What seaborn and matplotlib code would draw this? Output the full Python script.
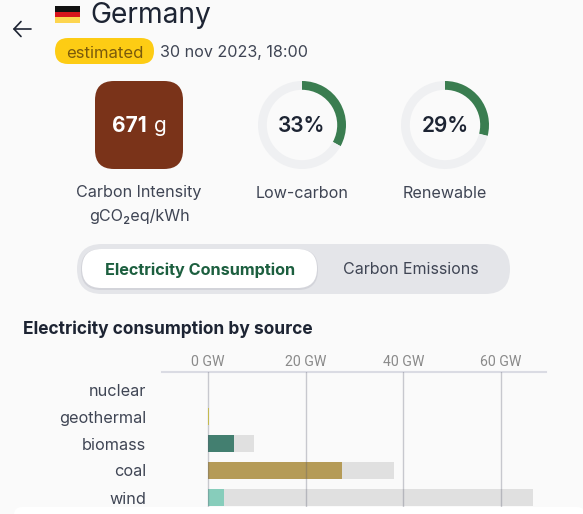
import matplotlib
matplotlib.use("Agg")
import matplotlib.pyplot as plt
from matplotlib.patches import FancyBboxPatch, Rectangle
import pandas as pd
import seaborn as sns

sources = ["nuclear", "geothermal", "biomass", "coal", "wind"]
capacity_gw = [0.0, 0.2, 9.4, 38.1, 66.6]
production_gw = [0.0, 0.2, 5.3, 27.5, 3.3]
source_colors = ["#e8e8e8", "#f5e642", "#437f70", "#b59b57", "#87cdbb"]
tick_values = [0, 20, 40, 60]
tick_labels = ["0 GW", "20 GW", "40 GW", "60 GW"]
ring_names = ["Low-carbon", "Renewable"]
ring_values = [33, 29]
intensity = "671"

sns.set_theme(style="white")
plt.rcParams["font.family"] = ["Inter", "DejaVu Sans"]
BG = "#fafafa"
INK = "#1d2433"
GREY = "#3f4554"

W, H = 583, 514
fig = plt.figure(figsize=(W / 100, H / 100), dpi=100, facecolor=BG)


def box(x0, y0, x1, y1):
    return [x0 / W, 1 - y1 / H, (x1 - x0) / W, (y1 - y0) / H]


ui = fig.add_axes([0, 0, 1, 1], zorder=0)
ui.set_xlim(0, W)
ui.set_ylim(H, 0)
ui.axis("off")


def rounded(x0, y0, x1, y1, r, color, z=1, **kw):
    ui.add_patch(FancyBboxPatch((x0 + r, y0 + r), x1 - x0 - 2 * r, y1 - y0 - 2 * r,
                                boxstyle=f"round,pad={r},rounding_size={r}",
                                fc=color, ec="none", zorder=z, **kw))


# Back arrow
ui.plot([14, 31], [29, 29], color=INK, lw=1.2, solid_capstyle="round")
ui.plot([21, 14, 21], [21.5, 29, 36.5], color=INK, lw=1.2, solid_capstyle="round")

# Flag
for y0, c in zip([6, 11.5, 17], ["#111111", "#d8141c", "#fdd54f"]):
    ui.add_patch(Rectangle((55, y0), 25, 5.5, fc=c, ec="none"))

ui.text(90.5, 15.5, "Germany", fontsize=20.3, color=INK, va="center", ha="left")

# Status pill and date
rounded(55, 38, 154, 64, 13, "#fdcc14")
ui.text(105, 53, "estimated", fontsize=12, color="#7a5a0c", ha="center", va="center")
ui.text(160, 53, "30 nov 2023, 18:00", fontsize=11.6, color=GREY, ha="left", va="center")

# Carbon intensity tile
rounded(95, 81, 183, 169, 19, "#7a3319")
ui.text(129, 126.5, intensity, fontsize=15, fontweight="bold", color="white", ha="center", va="center")
ui.text(160, 126.5, "g", fontsize=15, color="white", ha="center", va="center")
ui.text(139, 193, "Carbon Intensity", fontsize=11.6, color=GREY, ha="center", va="center")
ui.text(139, 217, "gCO₂eq/kWh", fontsize=11.6, color=GREY, ha="center", va="center")

# Rings
for cx, name, val in zip([302, 445], ring_names, ring_values):
    r = 44
    ax = fig.add_axes(box(cx - r, 125 - r, cx + r, 125 + r), zorder=1)
    ax.pie([val, 100 - val], colors=["#3a7d50", "#eff0f2"], startangle=90, counterclock=False,
           radius=1.0, wedgeprops=dict(width=0.2, linewidth=0))
    ax.set_xlim(-1, 1)
    ax.set_ylim(-1, 1)
    ax.text(0, -0.03, f"{val}%", fontsize=15, fontweight="semibold", color=INK, ha="center", va="center")
    ui.text(cx, 193, name, fontsize=11.6, color=GREY, ha="center", va="center")

# Toggle
rounded(77, 244, 510, 294, 25, "#e4e5e9")
rounded(81, 249, 318, 290, 20, "#d3d4da", z=2)
rounded(82, 249, 317, 288, 19.5, "white", z=2)
ui.text(200, 270, "Electricity Consumption", fontsize=11.7, fontweight="bold", color="#1c5f3f",
        ha="center", va="center", zorder=3)
ui.text(410.5, 270, "Carbon Emissions", fontsize=11.5, color=GREY, ha="center", va="center", zorder=3)

ui.text(23, 329, "Electricity consumption by source", fontsize=12.5, fontweight="bold", color=INK,
        ha="left", va="center")

# Bar chart
df = pd.DataFrame({"source": sources, "capacity": capacity_gw, "production": production_gw})
ax = fig.add_axes(box(162, 372, 546, 514), zorder=1)
ax.patch.set_alpha(0)
px_per_gw = 97.7 / 20
ax.set_axisbelow(False)
sns.barplot(data=df, y="source", x="capacity", order=sources, color="#cccccc", width=17 / 27,
            ax=ax, saturation=1, alpha=0.55, linewidth=0)
sns.barplot(data=df, y="source", x="production", order=sources, hue="source", hue_order=sources,
            palette=dict(zip(sources, source_colors)), width=17 / 27, ax=ax, saturation=1,
            legend=False, dodge=False, linewidth=0)
ax.set_xlim(-(208 - 162) / px_per_gw, (546 - 208) / px_per_gw)
ax.set_ylim((514 - 389.5) / 27, -(389.5 - 372) / 27)
ax.set_xlabel("")
ax.set_ylabel("")
ax.xaxis.tick_top()
ax.set_xticks(tick_values, tick_labels, fontsize=10.2, color="#8a8a8a", fontfamily="Roboto")
ax.set_yticks(range(len(sources)), sources, fontsize=11.7, color=GREY)
ax.tick_params(axis="x", length=0, pad=2.5)
ax.tick_params(axis="y", length=0, pad=11.4)
for s in ["left", "right", "bottom"]:
    ax.spines[s].set_visible(False)
ax.spines["top"].set_color("#dadbe3")
ax.spines["top"].set_linewidth(1.5)
for t in tick_values:
    ax.axvline(t, color="#54566a", alpha=0.3, lw=1.0, zorder=5)

# White panel overlapping the bottom of the chart
over = fig.add_axes([0, 0, 1, 1], zorder=2)
over.set_xlim(0, W)
over.set_ylim(H, 0)
over.axis("off")
over.add_patch(FancyBboxPatch((14 + 8, 507 + 8), 555, 30, boxstyle="round,pad=8,rounding_size=8",
                              fc="white", ec="none"))

fig.savefig("out.png", dpi=100, facecolor=BG)
